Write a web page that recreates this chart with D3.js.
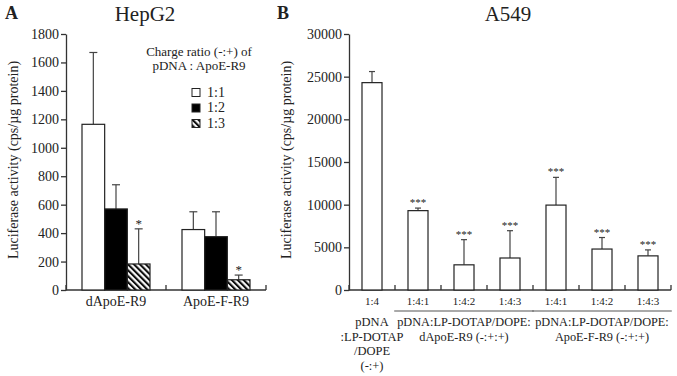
<!DOCTYPE html>
<html>
<head>
<meta charset="utf-8">
<script src="https://cdn.jsdelivr.net/npm/d3@7"></script>
<style>
  body { margin: 0; background: #fff; }
  text { font-family: "Liberation Serif", "Times New Roman", serif; fill: #222; }
</style>
</head>
<body>
<div id="plot"></div>
<script>
// panel A data (HepG2)
const groupsA = ["dApoE-R9", "ApoE-F-R9"];
const ratiosA = ["1:1", "1:2", "1:3"];
const meanA = [[1165, 570, 183], [425, 375, 72]];
const errA = [[1670, 740, 430], [550, 550, 105]];
const starA = [["", "", "*"], ["", "", "*"]];
const ticksA = [0, 200, 400, 600, 800, 1000, 1200, 1400, 1600, 1800];

// panel B data (A549)
const catsB = ["1:4", "1:4:1", "1:4:2", "1:4:3", "1:4:1 ", "1:4:2 ", "1:4:3 "];
const meanB = [24300, 9300, 2950, 3750, 9950, 4800, 4000];
const errB = [25600, 9600, 5900, 6950, 13200, 6150, 4700];
const starB = ["", "***", "***", "***", "***", "***", "***"];
const ticksB = [0, 5000, 10000, 15000, 20000, 25000, 30000];
const groupLabelsB = [
  {from: 1, to: 3, lines: ["pDNA:LP-DOTAP/DOPE:", "dApoE-R9 (-:+:+)"]},
  {from: 4, to: 6, lines: ["pDNA:LP-DOTAP/DOPE:", "ApoE-F-R9 (-:+:+)"]}
];
const firstLabelB = ["pDNA", ":LP-DOTAP", "/DOPE", "(-:+)"];

const w = 677, h = 376;

const svg = d3.select("#plot").append("svg")
    .attr("width", w)
    .attr("height", h);

const defs = svg.append("defs");
const pat = defs.append("pattern")
    .attr("id", "hatch")
    .attr("patternUnits", "userSpaceOnUse")
    .attr("width", 4.2)
    .attr("height", 4.2)
    .attr("patternTransform", "rotate(-45)");
pat.append("rect").attr("width", 4.2).attr("height", 4.2).attr("fill", "#fff");
pat.append("rect").attr("width", 2.1).attr("height", 4.2).attr("fill", "#111");

const fillFor = {"1:1": "#fff", "1:2": "#000", "1:3": "url(#hatch)"};

// ---------------- Panel A ----------------
const yA = d3.scaleLinear().domain([0, 1800]).range([290, 34]);
const xA = d3.scaleBand().domain(groupsA).range([66, 266])
    .paddingInner(0.32).paddingOuter(0.16);
const xSubA = d3.scaleBand().domain(ratiosA).range([0, xA.bandwidth()]);

const gA = svg.append("g");

const axA = gA.append("g")
    .attr("transform", "translate(66,0)")
    .call(d3.axisLeft(yA).tickValues(ticksA).tickSize(5).tickSizeOuter(0).tickFormat(d3.format("d")));
axA.selectAll("text").attr("font-size", 14).attr("x", -7);
axA.selectAll("line, path").attr("stroke", "#333").attr("stroke-width", 1.3);

// x axis with upward boundary ticks
gA.append("line")
    .attr("x1", 66).attr("x2", 266).attr("y1", yA(0)).attr("y2", yA(0))
    .attr("stroke", "#333").attr("stroke-width", 1.3);
d3.range(groupsA.length + 1).forEach(i => {
  const x = xA.range()[0] + i * xA.step();
  gA.append("line").attr("x1", x).attr("x2", x)
      .attr("y1", yA(0)).attr("y2", yA(0) - 5)
      .attr("stroke", "#333").attr("stroke-width", 1.3);
});

groupsA.forEach((g, gi) => {
  const grp = gA.append("g").attr("transform", `translate(${xA(g)},0)`);
  ratiosA.forEach((r, ri) => {
    const x = xSubA(r), bw = xSubA.bandwidth();
    const cx = x + bw / 2;
    // error bar
    grp.append("line").attr("x1", cx).attr("x2", cx)
        .attr("y1", yA(meanA[gi][ri])).attr("y2", yA(errA[gi][ri]))
        .attr("stroke", "#444").attr("stroke-width", 1.2);
    grp.append("line").attr("x1", cx - 4).attr("x2", cx + 4)
        .attr("y1", yA(errA[gi][ri])).attr("y2", yA(errA[gi][ri]))
        .attr("stroke", "#444").attr("stroke-width", 1.2);
    grp.append("rect")
        .attr("x", x).attr("y", yA(meanA[gi][ri]))
        .attr("width", bw).attr("height", yA(0) - yA(meanA[gi][ri]))
        .attr("fill", fillFor[r])
        .attr("stroke", "#222").attr("stroke-width", 1.2);
    if (starA[gi][ri]) {
      grp.append("text").attr("x", cx).attr("y", yA(errA[gi][ri]) - 1)
          .attr("text-anchor", "middle").attr("font-size", 13)
          .text(starA[gi][ri]);
    }
  });
  gA.append("text")
      .attr("x", xA(g) + xA.bandwidth() / 2).attr("y", 306)
      .attr("text-anchor", "middle").attr("font-size", 14)
      .text(g);
});

// legend
const legA = gA.append("g");
legA.append("text").attr("x", 199).attr("y", 56).attr("text-anchor", "middle")
    .attr("font-size", 13).text("Charge ratio (-:+) of");
legA.append("text").attr("x", 199).attr("y", 70).attr("text-anchor", "middle")
    .attr("font-size", 13).text("pDNA : ApoE-R9");
ratiosA.forEach((r, i) => {
  const y = 88.5 + i * 15.5;
  legA.append("rect").attr("x", 192).attr("y", y).attr("width", 8).attr("height", 8)
      .attr("fill", fillFor[r]).attr("stroke", "#222").attr("stroke-width", 1);
  legA.append("text").attr("x", 207).attr("y", y + 8).attr("font-size", 14).text(r);
});

// titles A
svg.append("text").attr("x", 5).attr("y", 19).attr("font-size", 18)
    .attr("font-weight", "bold").text("A");
svg.append("text").attr("x", 145).attr("y", 21).attr("text-anchor", "middle")
    .attr("font-size", 21).text("HepG2");
svg.append("text").attr("transform", "translate(18,160) rotate(-90)")
    .attr("text-anchor", "middle").attr("font-size", 14)
    .text("Luciferase  activity (cps/\u00b5g protein)");

// ---------------- Panel B ----------------
const yB = d3.scaleLinear().domain([0, 30000]).range([290, 34]);
const xB = d3.scaleBand().domain(catsB).range([349, 671])
    .paddingInner(0.565).paddingOuter(0.2825);

const gB = svg.append("g");
const axB = gB.append("g")
    .attr("transform", "translate(349,0)")
    .call(d3.axisLeft(yB).tickValues(ticksB).tickSize(5).tickSizeOuter(0).tickFormat(d3.format("d")));
axB.selectAll("text").attr("font-size", 14).attr("x", -7);
axB.selectAll("line, path").attr("stroke", "#333").attr("stroke-width", 1.3);

gB.append("line")
    .attr("x1", 349).attr("x2", 671).attr("y1", yB(0)).attr("y2", yB(0))
    .attr("stroke", "#333").attr("stroke-width", 1.3);
d3.range(catsB.length + 1).forEach(i => {
  const x = xB.range()[0] + i * xB.step();
  gB.append("line").attr("x1", x).attr("x2", x)
      .attr("y1", yB(0)).attr("y2", yB(0) - 5)
      .attr("stroke", "#333").attr("stroke-width", 1.3);
});

catsB.forEach((c, i) => {
  const x = xB(c), bw = xB.bandwidth(), cx = x + bw / 2;
  gB.append("line").attr("x1", cx).attr("x2", cx)
      .attr("y1", yB(meanB[i])).attr("y2", yB(errB[i]))
      .attr("stroke", "#444").attr("stroke-width", 1.2);
  gB.append("line").attr("x1", cx - 3).attr("x2", cx + 3)
      .attr("y1", yB(errB[i])).attr("y2", yB(errB[i]))
      .attr("stroke", "#444").attr("stroke-width", 1.2);
  gB.append("rect").attr("x", x).attr("y", yB(meanB[i]))
      .attr("width", bw).attr("height", yB(0) - yB(meanB[i]))
      .attr("fill", "#fff").attr("stroke", "#222").attr("stroke-width", 1.2);
  if (starB[i]) {
    gB.append("text").attr("x", cx).attr("y", yB(errB[i]) - 2)
        .attr("text-anchor", "middle").attr("font-size", 11)
        .attr("fill", "#555").text(starB[i]);
  }
  gB.append("text").attr("x", cx).attr("y", 305)
      .attr("text-anchor", "middle").attr("font-size", 11).attr("fill", "#444")
      .text(c.trim());
});

// group annotation lines + labels
groupLabelsB.forEach(gl => {
  const xa = xB(catsB[gl.from]) - xB.step() * 0.3;
  const xb = xB(catsB[gl.to]) + xB.bandwidth() + xB.step() * 0.3;
  gB.append("line").attr("x1", xa).attr("x2", xb).attr("y1", 311).attr("y2", 311)
      .attr("stroke", "#555").attr("stroke-width", 1.2);
  gl.lines.forEach((t, k) => {
    gB.append("text").attr("x", (xa + xb) / 2).attr("y", 326 + k * 14.5)
        .attr("text-anchor", "middle").attr("font-size", 12.3).text(t);
  });
});
firstLabelB.forEach((t, k) => {
  gB.append("text").attr("x", xB(catsB[0]) + xB.bandwidth() / 2).attr("y", 326 + k * 14.5)
      .attr("text-anchor", "middle").attr("font-size", 12.5).text(t);
});

svg.append("text").attr("x", 277).attr("y", 19).attr("font-size", 18)
    .attr("font-weight", "bold").text("B");
svg.append("text").attr("x", 508).attr("y", 21).attr("text-anchor", "middle")
    .attr("font-size", 21).text("A549");
svg.append("text").attr("transform", "translate(291,160) rotate(-90)")
    .attr("text-anchor", "middle").attr("font-size", 14)
    .text("Luciferase  activity (cps/\u00b5g protein)");
</script>
</body>
</html>
